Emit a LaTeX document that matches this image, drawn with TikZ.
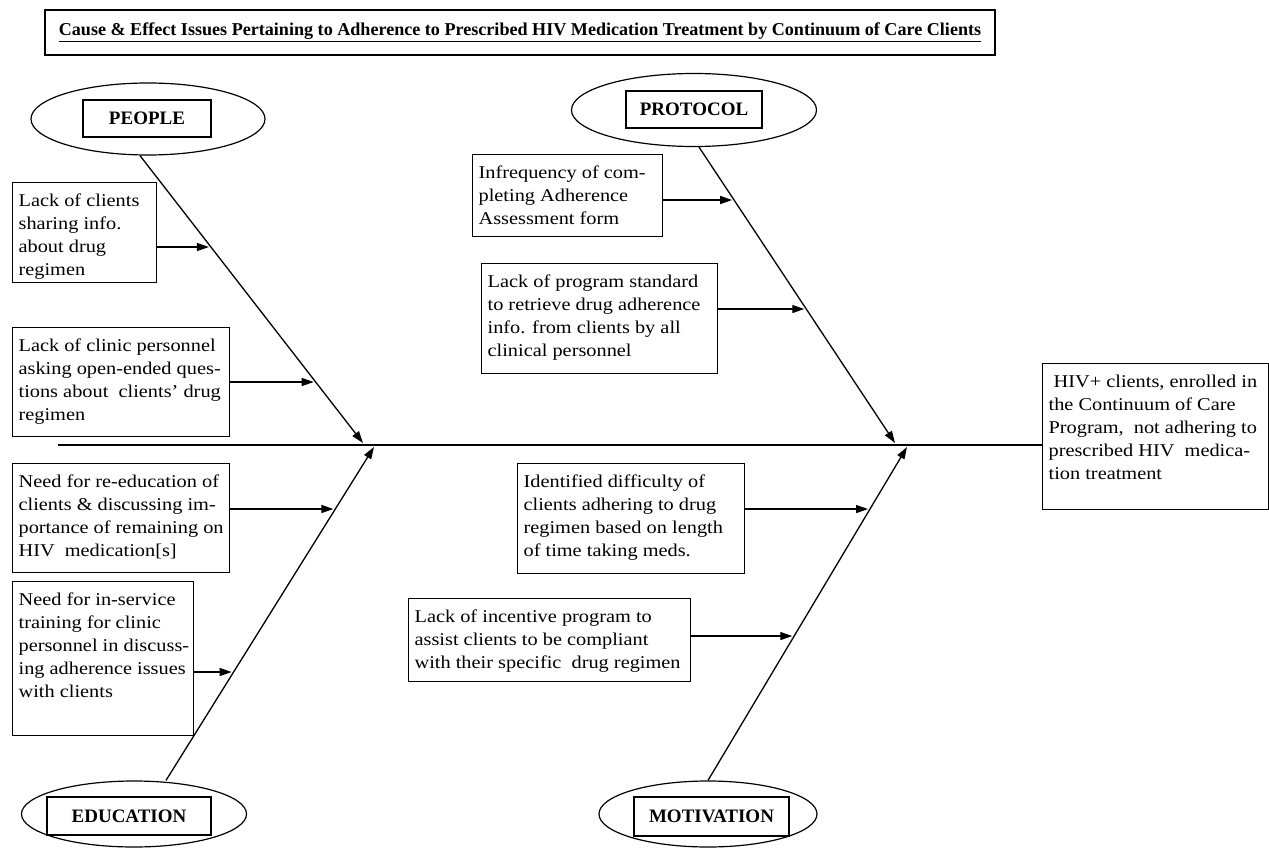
\documentclass[tikz,border=0pt]{standalone}
\usepackage{fontspec}
\setmainfont{Liberation Serif}[FakeStretch=1.13]
\newfontfamily\plainserif{Liberation Serif}
\usetikzlibrary{shapes.geometric,arrows.meta}
\newcommand{\cb}[3]{\parbox[c][#2pt][t]{\dimexpr#1pt-12pt\relax}{\vspace{8pt}\begin{tabular}[t]{@{}l@{}}#3\end{tabular}}}
\tikzset{
  ln/.style={line width=1.3pt, draw=black},
  arr/.style={ln, -{Triangle[length=12pt,width=8pt]}},
  cbox/.style={draw=black, line width=1.2pt, inner xsep=6pt, inner ysep=0pt, anchor=north west,
    font=\fontsize{18}{23}\selectfont},
  cat/.style={ellipse, draw=black, line width=1.2pt, inner sep=0pt},
  catlbl/.style={draw=black, line width=1.4pt, inner sep=0pt, font=\plainserif\bfseries\fontsize{19}{22}\selectfont},
  titlebox/.style={draw=black, line width=1.4pt, inner sep=0pt, minimum width=950pt, minimum height=45pt,
    font=\plainserif\bfseries\fontsize{18.1}{20}\selectfont}
}
\begin{document}
\begin{tikzpicture}[x=1pt,y=-1pt]
\fill[white] (0,0) rectangle (1269,848);
\useasboundingbox (0,0) rectangle (1269,848);

% title
\node[titlebox] (title) at (520,32.5) {\underline{Cause \& Effect Issues Pertaining to Adherence to Prescribed HIV Medication Treatment by Continuum of Care Clients}};

% category ellipses
\node[cat, minimum width=234pt, minimum height=72pt] (pe) at (148,119) {};
\node[catlbl, minimum width=128pt, minimum height=37pt] (pel) at (147,118.5) {PEOPLE};
\node[cat, minimum width=245pt, minimum height=73pt] (pr) at (694,110) {};
\node[catlbl, minimum width=136pt, minimum height=37pt] (prl) at (694,109.5) {PROTOCOL};
\node[cat, minimum width=225pt, minimum height=66pt] (ed) at (134,814) {};
\node[catlbl, minimum width=164pt, minimum height=38pt] (edl) at (129,816) {EDUCATION};
\node[cat, minimum width=218pt, minimum height=66pt] (mo) at (708,814) {};
\node[catlbl, minimum width=155pt, minimum height=39pt] (mol) at (711.5,816.5) {MOTIVATION};

% effect box
\node[cbox] (eff) at (1042,363) {\cb{226}{146}{\ HIV+ clients, enrolled in\\the Continuum of Care\\Program,\ \ not adhering to\\prescribed HIV\ \ medica-\\tion treatment}};

% spine
\coordinate (sp) at (58,445);
\draw[ln] (sp) -- (sp -| eff.west);

% bones
\coordinate (s1) at ([xshift=-8pt]pe.south);
\coordinate (t1) at (363,443);
\coordinate (s2) at ([xshift=32pt]ed.north);
\coordinate (t2) at (374,447);
\coordinate (s3) at ([xshift=5pt]pr.south);
\coordinate (t3) at (895,443);
\coordinate (s4) at (mo.north);
\coordinate (t4) at (907,447);
\draw[arr] (s1) -- (t1);
\draw[arr] (s2) -- (t2);
\draw[arr] (s3) -- (t3);
\draw[arr] (s4) -- (t4);

% cause boxes
\node[cbox] (c1) at (12,182) {\cb{144}{100}{Lack of clients\\sharing info.\\about drug\\regimen}};
\node[cbox] (c2) at (12,327) {\cb{217}{109}{Lack of clinic personnel\\asking open-ended ques-\\tions about\ \ clients’ drug\\regimen}};
\node[cbox] (c3) at (12,463) {\cb{217}{109}{Need for re-education of\\clients \& discussing im-\\portance of remaining on\\HIV\ \ medication[s]}};
\node[cbox] (c4) at (12,581) {\cb{181}{154}{Need for in-service\\training for clinic\\personnel in discuss-\\ing adherence issues\\with clients}};
\node[cbox] (c5) at (472,154) {\cb{190}{82}{Infrequency of com-\\pleting Adherence\\Assessment form}};
\node[cbox] (c6) at (481,263) {\cb{236}{110}{Lack of program standard\\to retrieve drug adherence\\info. from clients by all\\clinical personnel}};
\node[cbox] (c7) at (517,463) {\cb{227}{110}{Identified difficulty of\\clients adhering to drug\\regimen based on length\\of time taking meds.}};
\node[cbox] (c8) at (408,598) {\cb{282}{83}{Lack of incentive program to\\assist clients to be compliant\\with their specific\ \ drug regimen}};

% arrow tips on bones
\coordinate (a1) at (intersection of s1--t1 and 0,247--10,247);
\coordinate (a2) at (intersection of s1--t1 and 0,382--10,382);
\coordinate (a3) at (intersection of s2--t2 and 0,509--10,509);
\coordinate (a4) at (intersection of s2--t2 and 0,672--10,672);
\coordinate (a5) at (intersection of s3--t3 and 0,200--10,200);
\coordinate (a6) at (intersection of s3--t3 and 0,309--10,309);
\coordinate (a7) at (intersection of s4--t4 and 0,509--10,509);
\coordinate (a8) at (intersection of s4--t4 and 0,636--10,636);

\draw[arr, shorten >=2pt] (c1.east |- a1) -- (a1);
\draw[arr, shorten >=2pt] (c2.east |- a2) -- (a2);
\draw[arr, shorten >=2pt] (c3.east |- a3) -- (a3);
\draw[arr, shorten >=2pt] (c4.east |- a4) -- (a4);
\draw[arr, shorten >=2pt] (c5.east |- a5) -- (a5);
\draw[arr, shorten >=2pt] (c6.east |- a6) -- (a6);
\draw[arr, shorten >=2pt] (c7.east |- a7) -- (a7);
\draw[arr, shorten >=2pt] (c8.east |- a8) -- (a8);
\end{tikzpicture}
\end{document}
